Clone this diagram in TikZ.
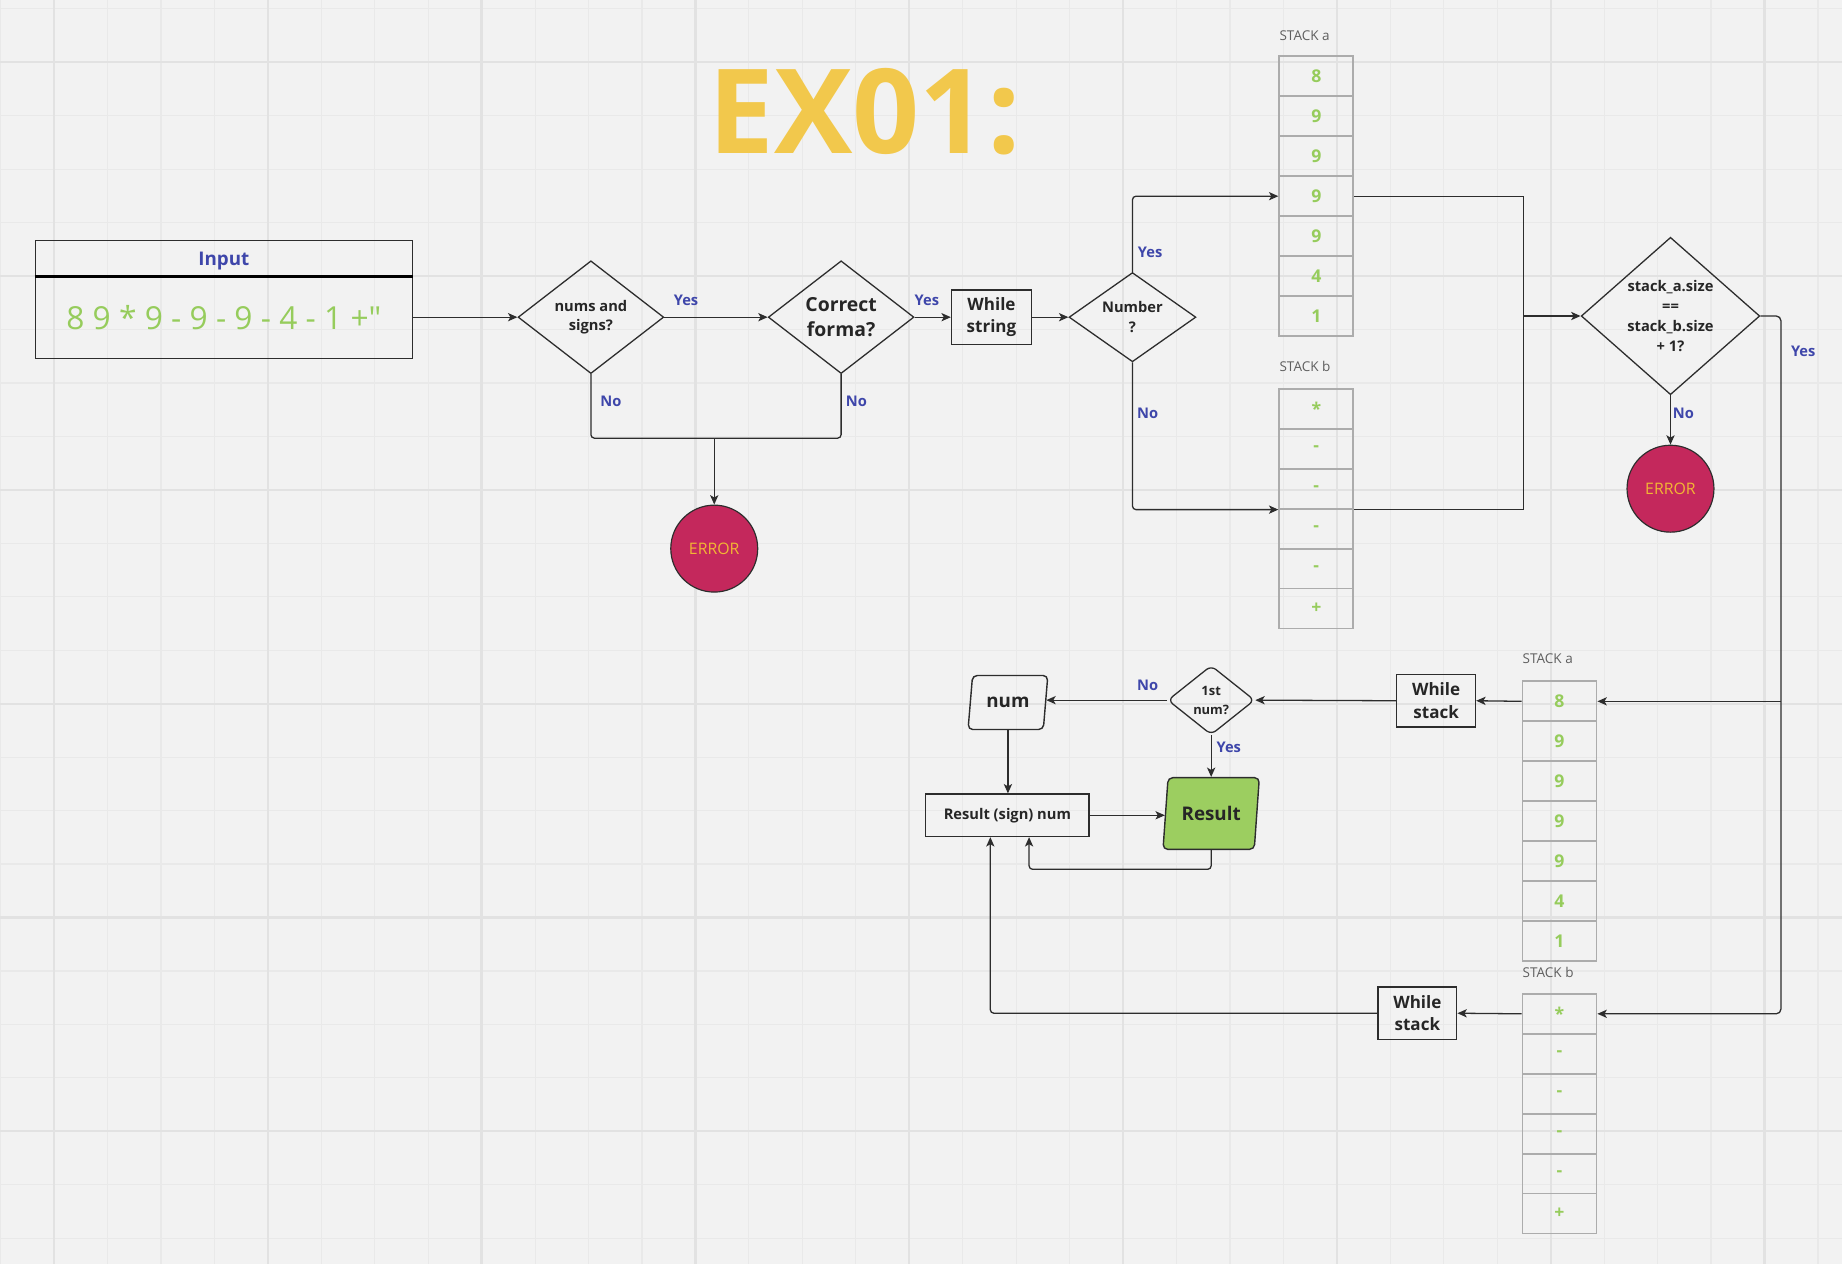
\documentclass[tikz,border=0pt]{standalone}
\usepackage{fontspec}
\setmainfont{Open Sans}
\newfontfamily\plainsans{Open Sans}[Ligatures=ResetAll]
\usetikzlibrary{shapes.geometric,arrows.meta}

\definecolor{bggray}{RGB}{242,242,242}
\definecolor{gridminor}{RGB}{233,233,233}
\definecolor{gridmajor}{RGB}{226,226,226}
\definecolor{linedark}{RGB}{45,45,45}
\definecolor{titleyellow}{RGB}{242,200,76}
\definecolor{valgreen}{RGB}{150,204,92}
\definecolor{labelblue}{RGB}{62,70,170}
\definecolor{errred}{RGB}{196,40,92}
\definecolor{erryellow}{RGB}{242,182,52}
\definecolor{cellgray}{RGB}{172,172,172}
\definecolor{stackgray}{RGB}{95,95,95}
\definecolor{resgreen}{RGB}{156,206,96}

\begin{document}
\begin{tikzpicture}[x=1pt, y=-1pt,
	line/.style={draw=linedark, line width=1.1pt},
	arr/.style={line, -{Stealth[length=8pt, width=7pt, inset=2pt]}},
	decision/.style={diamond, draw=linedark, line width=1.1pt, inner sep=0pt},
	dtext/.style={align=center, font=\fontsize{12.5}{17}\selectfont\bfseries, text=black!85},
	process/.style={rectangle, draw=linedark, line width=1.2pt, align=center, inner sep=2pt, font=\fontsize{14.5}{19}\selectfont\bfseries, text=black!85},
	cell/.style={rectangle, draw=cellgray, line width=1.6pt, minimum width=63, minimum height=34, inner sep=0pt, font=\fontsize{15}{15}\selectfont\bfseries, text=valgreen},
	stacklbl/.style={anchor=west, inner sep=0pt, font=\fontsize{11.5}{12}\selectfont, text=stackgray},
	lbl/.style={inner sep=0pt, font=\fontsize{12.5}{14}\selectfont\bfseries, text=labelblue},
	errnode/.style={circle, draw=linedark, line width=1pt, fill=errred, minimum size=74, inner sep=0pt, font=\fontsize{13.5}{14}\selectfont, text=erryellow},
	slanted/.style={trapezium, trapezium left angle=80, trapezium right angle=100, trapezium stretches=true, draw=linedark, line width=1.2pt, rounded corners=4pt, font=\fontsize{16}{16}\selectfont\bfseries, text=black!85}
]

	% background and grid
	\useasboundingbox (0,0) rectangle (1568,1076);
	\fill[bggray] (0,0) rectangle (1568,1076);
	\foreach \k in {-1,...,33}
		\draw[gridminor, line width=1pt] (46+45.5*\k, 0) -- (46+45.5*\k, 1076);
	\foreach \k in {-1,...,22}
		\draw[gridminor, line width=1pt] (0, 53+45.5*\k) -- (1568, 53+45.5*\k);
	\foreach \k in {0,...,8}
		\draw[gridmajor, line width=2pt] (46+182*\k, 0) -- (46+182*\k, 1076);
	\foreach \k in {0,...,5}
		\draw[gridmajor, line width=2pt] (0, 53+182*\k) -- (1568, 53+182*\k);

	\node[font=\fontsize{100}{100}\selectfont\bfseries, text=titleyellow] (title) at (736,95) {EX01:};

	% input
	\node[rectangle, draw=linedark, line width=1.1pt, minimum width=321, minimum height=30, inner sep=0pt, text depth=0pt, font=\fontsize{16}{16}\selectfont\bfseries, text=labelblue] (inhead) at (190.5,220) {Input};
	\node[rectangle, draw=linedark, line width=1.1pt, minimum width=321, minimum height=70, inner sep=0pt, font=\plainsans\fontsize{27}{27}\selectfont, text=valgreen] (inbody) at (190.5,270) {8 9 * 9 - 9 - 9 - 4 - 1 +"};
	\draw[line width=2.4pt, draw=black] (inhead.south west) -- (inhead.south east);

	% checks
	\node[decision, minimum width=124, minimum height=96, label={[dtext]center:nums and\\signs?}] (d1) at (503,270) {};
	\node[decision, minimum width=124, minimum height=96, label={[dtext, font=\fontsize{16.5}{22}\selectfont\bfseries]center:Correct\\forma?}] (d2) at (716,270) {};
	\node[process, minimum width=68, minimum height=46] (wstr) at (844,270) {While\\string};
	\node[decision, minimum width=108, minimum height=76, label={[dtext]center:Number\\?}] (d3) at (964,270) {};
	\node[decision, minimum width=152, minimum height=134, label={[dtext]center:stack\_a.size\\==\\stack\_b.size\\+ 1?}] (d4) at (1422,269) {};

	\node[errnode] (err1) at (608,467) {ERROR};
	\node[errnode] (err2) at (1422,416) {ERROR};

	% stacks
	\node[stacklbl] (lsa) at (1089,30) {STACK a};
	\node[stacklbl] (lsb) at (1089,312) {STACK b};
	\node[stacklbl] (lla) at (1296,561) {STACK a};
	\node[stacklbl] (llb) at (1296,828) {STACK b};
	\foreach \v [count=\i] in {8,9,9,9,9,4,1} {
		\node[cell] (sa\i) at (1120.5, 31+34*\i) {\v};
		\node[cell] (la\i) at (1327.5, 563+34*\i) {\v};
	}
	\foreach \v [count=\i] in {*,-,-,-,-,+} {
		\node[cell] (sb\i) at (1120.5, 314+34*\i) {\v};
		\node[cell] (lb\i) at (1327.5, 829+34*\i) {\v};
	}

	% evaluation
	\node[process, minimum width=67, minimum height=45] (wsa) at (1222.5,596.5) {While\\stack};
	\node[process, minimum width=67, minimum height=45] (wsb) at (1206.5,862.5) {While\\stack};
	\node[decision, rounded corners=5pt, minimum width=74, minimum height=59, label={[dtext, font=\fontsize{11}{16}\selectfont\bfseries]center:1st\\num?}] (d5) at (1031,596) {};
	\node[slanted, minimum width=68, minimum height=46] (num) at (858,598) {num};
	\node[slanted, fill=resgreen, minimum width=82, minimum height=61] (res) at (1031,692.5) {Result};
	\node[process, minimum width=139, minimum height=36, font=\fontsize{12.5}{14}\selectfont\bfseries] (rsn) at (857.5,694) {Result (sign) num};

	\coordinate (nojoin) at (608,373);
	\coordinate (jn) at (1297,269);
	\coordinate (rtop) at (1516,269);
	\coordinate (loop) at (876,740);
	\coordinate (back) at (843,862);

	\draw[arr] (inbody.east) -- (d1.west);
	\draw[arr] (d1.east) -- (d2.west);
	\draw[arr] (d2.east) -- (wstr.west);
	\draw[arr] (wstr.east) -- (d3.west);
	\draw[line, rounded corners=3pt] (d1.south) |- (nojoin);
	\draw[line, rounded corners=3pt] (d2.south) |- (nojoin);
	\draw[arr] (nojoin) -- (err1.north);
	\draw[arr, rounded corners=3pt] (d3.north) |- (sa4.west);
	\draw[arr, rounded corners=3pt] (d3.south) |- (sb3.south west);
	\draw[line] (sa4.east) -| (jn);
	\draw[line] (sb3.south east) -| (jn);
	\draw[arr] (jn) -- (d4.west);
	\draw[arr] (d4.south) -- (err2.north);
	\draw[arr, rounded corners=4pt] (d4.east) -| (rtop |- lb1.east) -- (lb1.east);
	\draw[arr] (rtop |- la1.east) -- (la1.east);
	\draw[arr] (la1.west) -- (wsa.east);
	\draw[arr] (wsa.west) -- (d5.east);
	\draw[arr] (d5.west) -- (d5.west -| num.east);
	\draw[arr] (d5.south) -- (d5.south |- res.north);
	\draw[arr] (num.center |- num.south) -- (num.center |- rsn.north);
	\draw[arr] (rsn.east) -- (rsn.east -| res.west);
	\draw[arr, rounded corners=3pt] (d5.south |- res.south) |- (loop) -- (loop |- rsn.south);
	\draw[arr] (lb1.west) -- (wsb.east);
	\draw[arr, rounded corners=3pt] (wsb.west) -| (back |- rsn.south);

	% answers
	\node[lbl] (y1) at (584,256) {Yes};
	\node[lbl] (y2) at (789,256) {Yes};
	\node[lbl] (n1) at (520,342) {No};
	\node[lbl] (n2) at (729,342) {No};
	\node[lbl] (y3) at (979,215) {Yes};
	\node[lbl] (n3) at (977,352) {No};
	\node[lbl] (y4) at (1535,299) {Yes};
	\node[lbl] (n4) at (1433,352) {No};
	\node[lbl] (n5) at (977,583) {No};
	\node[lbl] (y5) at (1046,636) {Yes};

\end{tikzpicture}
\end{document}
